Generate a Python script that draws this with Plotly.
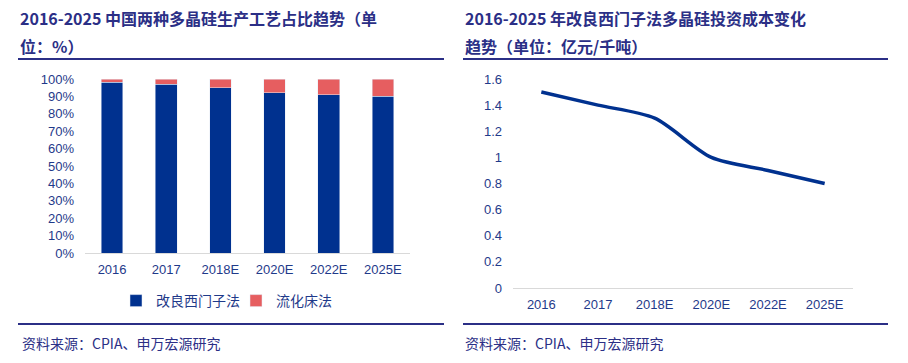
import plotly.graph_objects as go

categories = ["2016", "2017", "2018E", "2020E", "2022E", "2025E"]
siemens_share = [98, 97, 95, 92, 91, 90]
fbr_share = [2, 3, 5, 8, 9, 10]
cost_values = [1.5, 1.4, 1.3, 1.0, 0.9, 0.8]
pct_ticks = list(range(0, 101, 10))
pct_labels = [f"{v}%" for v in pct_ticks]
cost_ticks = [0, 0.2, 0.4, 0.6, 0.8, 1.0, 1.2, 1.4, 1.6]
cost_labels = ["0", "0.2", "0.4", "0.6", "0.8", "1", "1.2", "1.4", "1.6"]

W, H = 908, 363
NAVY = "#1f3a8a"
TITLE_C = "#2b2f86"
BLUE = "#00318f"
RED = "#e65e60"
FONT = "Liberation Sans, Arial, sans-serif"
CJK = "Noto Sans CJK SC"

def px(x):
    return x / W

def py(y):
    return 1 - y / H

fig = go.Figure()
fig.add_trace(go.Bar(x=categories, y=siemens_share, name="改良西门子法", marker_color=BLUE,
                     xaxis="x", yaxis="y"))
fig.add_trace(go.Bar(x=categories, y=fbr_share, name="流化床法", marker_color=RED,
                     xaxis="x", yaxis="y"))
fig.add_trace(go.Scatter(x=categories, y=cost_values, mode="lines", showlegend=False,
                         line=dict(color=BLUE, width=3.5, shape="spline", smoothing=0.8),
                         xaxis="x2", yaxis="y2"))

tickfont = dict(family=FONT, size=13, color=NAVY)
fig.update_layout(
    width=W, height=H, margin=dict(l=0, r=0, t=0, b=0, autoexpand=False),
    paper_bgcolor="white", plot_bgcolor="white",
    barmode="stack", bargap=0.6,
    xaxis=dict(domain=[px(85), px(410)], anchor="y", tickfont=tickfont, showgrid=False,
               showline=True, linecolor="#d9d9d9", linewidth=1, ticks="", ticklabelstandoff=4),
    yaxis=dict(domain=[py(253), py(79)], range=[0, 100], tickvals=pct_ticks, ticktext=pct_labels,
               tickfont=tickfont, showgrid=False, zeroline=False, showline=False, ticks="",
               ticklabelstandoff=10),
    xaxis2=dict(domain=[px(513), px(853)], anchor="y2", tickfont=tickfont, showgrid=False,
                range=[-0.5, 5.5], ticklabelstandoff=4,
                showline=True, linecolor="#d9d9d9", linewidth=1, ticks=""),
    yaxis2=dict(domain=[py(288), py(79)], range=[0, 1.6], tickvals=cost_ticks, ticktext=cost_labels,
                tickfont=tickfont, showgrid=False, zeroline=False, showline=False, ticks="",
                anchor="x2", ticklabelstandoff=10),
    legend=dict(orientation="h", x=px(236), xanchor="center", y=py(301), yanchor="middle",
                font=dict(family=CJK, size=14, color=NAVY), traceorder="normal",
                itemwidth=30, entrywidth=75, entrywidthmode="pixels",
                bgcolor="rgba(0,0,0,0)"),
    showlegend=True,
)

ann = []
def title(x, y, text):
    ann.append(dict(x=px(x), y=py(y), xref="paper", yref="paper", xanchor="left", yanchor="middle",
                    text=text, showarrow=False,
                    font=dict(family=CJK, size=16, color=TITLE_C)))

title(18, 18, "<b>2016-2025 中国两种多晶硅生产工艺占比趋势（单</b>")
title(18, 46, "<b>位：%）</b>")
title(463, 18, "<b>2016-2025 年改良西门子法多晶硅投资成本变化</b>")
title(463, 46, "<b>趋势（单位：亿元/千吨）</b>")

for x0 in (20, 463):
    ann.append(dict(x=px(x0), y=py(343), xref="paper", yref="paper", xanchor="left", yanchor="middle",
                    text="资料来源：CPIA、申万宏源研究", showarrow=False,
                    font=dict(family=CJK, size=14, color=TITLE_C)))
fig.update_layout(annotations=ann)

shapes = []
for (x0, x1) in ((18, 444), (463, 888)):
    shapes.append(dict(type="line", xref="paper", yref="paper", x0=px(x0), x1=px(x1),
                       y0=py(59), y1=py(59), line=dict(color=TITLE_C, width=2)))
    shapes.append(dict(type="line", xref="paper", yref="paper", x0=px(x0), x1=px(x1),
                       y0=py(324), y1=py(324), line=dict(color=TITLE_C, width=2)))
fig.update_layout(shapes=shapes)

fig.write_html("out.html", config={"displayModeBar": False},
               post_script="document.body.style.margin='0';document.body.style.overflow='hidden';")
